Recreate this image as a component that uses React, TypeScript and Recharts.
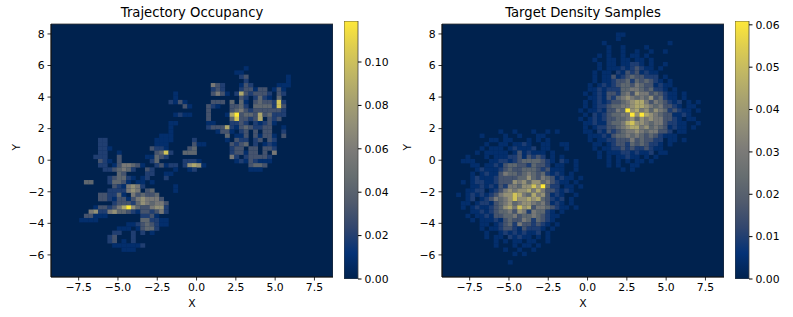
import React from 'react';
import { ScatterChart, Scatter, XAxis, YAxis, ReferenceArea, BarChart, Bar } from 'recharts';

const xTicks = [-7.5, -5, -2.5, 0, 2.5, 5, 7.5];
const yTicks = [-6, -4, -2, 0, 2, 4, 6, 8];
const xDomain = [-9.26, 8.68];
const yDomain = [-7.4, 8.63];
const bins = 60;

const occupancyTicks = [0, 0.02, 0.04, 0.06, 0.08, 0.1];
const targetTicks = [0, 0.01, 0.02, 0.03, 0.04, 0.05, 0.06];
const occupancyMax = 0.1189;
const targetMax = 0.0609;
// density for each digit used in the level strings
const occupancyValues = [0, 0.009, 0.019, 0.031, 0.043, 0.057, 0.072, 0.086, 0.102, 0.1189];
const targetValues = [0, 0.0045, 0.0095, 0.016, 0.022, 0.029, 0.037, 0.044, 0.052, 0.0609];

// [row from top, first column, levels]
const occupancyLevels: [number, number, string][] = [
  [10, 41, '1'], [11, 39, '11'], [12, 40, '23'], [12, 50, '1'], [13, 41, '2'], [13, 50, '1'],
  [14, 34, '532'], [14, 40, '132'], [14, 48, '111'],
  [15, 34, '232'], [15, 40, '2331330131'],
  [16, 26, '1'], [16, 34, '3531'], [16, 39, '27323332'], [16, 48, '32'],
  [17, 26, '1'], [17, 40, '32'], [17, 43, '242104'],
  [18, 25, '2131'], [18, 34, '333'], [18, 38, '4'], [18, 40, '41'], [18, 43, '3433282'],
  [19, 28, '31'], [19, 33, '321'], [19, 38, '3342'], [19, 43, '4444283'],
  [20, 33, '3'], [20, 38, '345323333332'],
  [21, 26, '1211'], [21, 33, '3'], [21, 37, '1793443734222'],
  [22, 33, '3'], [22, 38, '48332370323'],
  [23, 25, '11'], [23, 33, '11'], [23, 38, '2232021231'],
  [24, 25, '1'], [24, 33, '23337213432233'], [24, 49, '1'],
  [25, 25, '1'], [25, 35, '133102303033'], [25, 49, '2'],
  [26, 23, '111'], [26, 37, '4'], [26, 39, '113'], [26, 43, '31331'], [26, 49, '3'],
  [27, 10, '22'], [27, 22, '1111'], [27, 30, '2'], [27, 37, '1'], [27, 39, '322023032'],
  [28, 10, '22'], [28, 22, '111'], [28, 30, '311'], [28, 38, '3234020121'],
  [29, 10, '221'], [29, 21, '3221'], [29, 29, '34'], [29, 38, '2330330332'],
  [30, 10, '22'], [30, 14, '1'], [30, 22, '3482'], [30, 28, '444'], [30, 38, '2331330305'],
  [31, 9, '222'], [31, 14, '3'], [31, 20, '11432'], [31, 38, '520233332'],
  [32, 10, '321'], [32, 14, '3'], [32, 21, '24'], [32, 28, '2221'], [32, 39, '12132111'],
  [33, 10, '22'], [33, 13, '13'], [33, 15, '55431'], [33, 22, '231'], [33, 25, '22'], [33, 28, '26761'], [33, 42, '3443'],
  [34, 11, '2234542'], [34, 20, '32'], [34, 26, '1'], [34, 29, '12'], [34, 42, '111'],
  [35, 14, '43'], [35, 20, '22'], [35, 24, '11'],
  [36, 12, '234421'], [36, 19, '12'], [36, 24, '2'],
  [37, 7, '44'], [37, 12, '24431'], [37, 18, '11'], [37, 21, '1'],
  [38, 13, '3215652'], [38, 26, '1'],
  [39, 12, '2222565'], [39, 20, '34'], [39, 26, '1'],
  [40, 10, '33224'], [40, 15, '1'], [40, 17, '534334'],
  [41, 10, '332'], [41, 13, '13313565553'],
  [42, 13, '233324654553'],
  [43, 9, '1332357964335662'],
  [44, 8, '56225644321332352'],
  [45, 7, '33111'], [45, 19, '2231'],
  [46, 6, '1111'], [46, 19, '442211'],
  [47, 16, '112343211'],
  [48, 14, '11'], [48, 16, '1'], [48, 18, '13442'],
  [49, 13, '22'], [49, 17, '2'], [49, 19, '2'], [49, 21, '1'],
  [50, 12, '23'], [50, 17, '2'],
  [51, 12, '23'], [51, 15, '1'], [51, 17, '2'],
  [52, 13, '1111112'],
  [53, 15, '111'],
];

const targetLevels: [number, number, string][] = [
  // upper right cluster
  [2, 37, '11'],
  [3, 37, '10'],
  [4, 34, '1000000000000010'],
  [5, 35, '10010000100'],
  [6, 32, '0001001001001001'],
  [7, 33, '1010010110100'],
  [8, 32, '10011011011010'],
  [9, 32, '0101101122101001'],
  [10, 33, '101112123211010'],
  [11, 32, '1011021323121100'],
  [12, 32, '10113123433222010'],
  [13, 31, '010112334243432101'],
  [14, 31, '1012123443543312110'],
  [15, 30, '01121222445543422101'],
  [16, 30, '1012133245365534321101'],
  [17, 30, '01121324565454634211010'],
  [18, 30, '1012123345677535432120101'],
  [19, 29, '0101223445567765453321011'],
  [20, 29, '10112133549675646542321101'],
  [21, 29, '01021234455969765433112100'],
  [22, 29, '1012123344564656553321011'],
  [23, 29, '01121134457866545532211001'],
  [24, 30, '101223345677564543121101'],
  [25, 30, '1102132345565455332011'],
  [26, 30, '01112134454543432111'],
  [27, 31, '101122333534332201101'],
  [28, 31, '0110123324343221010'],
  [29, 32, '10112232322321100'],
  [30, 32, '0101112212112011'],
  [31, 33, '101011211010100'],
  [32, 34, '010101011010'],
  [33, 35, '10100110'],
  [34, 38, '101'],
  // lower left cluster
  [25, 12, '1001000100101'],
  [26, 8, '10000100100011000'],
  [27, 9, '0110110001010100'],
  [28, 9, '100110112100110011'],
  [29, 6, '0010111012111201100010'],
  [30, 6, '01011111013121110100'],
  [31, 5, '1000101112231323201010'],
  [32, 3, '011100011221234444321021010'],
  [33, 5, '0110112134433243320110010'],
  [34, 6, '01211123433444323111001'],
  [35, 6, '1012113544345434212101'],
  [36, 4, '001211123333446435431211010'],
  [37, 4, '10122112333656466453211010'],
  [38, 5, '0112121325546686942201101'],
  [39, 4, '01122012356566757533212100'],
  [40, 3, '10121212356687547563121001'],
  [41, 3, '0012012354568667674321201'],
  [42, 3, '0110122134564566545312101'],
  [43, 4, '1012112346758673554321101'],
  [44, 4, '0011212344536525442101'],
  [45, 5, '10112133445344543211'],
  [46, 6, '1011121343354243210'],
  [47, 6, '0011012342533232101'],
  [48, 8, '1011233213222101'],
  [49, 9, '100121212112010'],
  [50, 9, '10110212110101'],
  [51, 10, '0101011011001'],
  [52, 11, '1000101101'],
  [53, 13, '10010010'],
  [54, 14, '0101'],
  [56, 14, '1'],
];

// cividis
const colorStops = [
  [0, 34, 78], [4, 50, 118], [50, 70, 110], [81, 91, 109], [103, 110, 112], [124, 123, 120],
  [146, 143, 119], [168, 162, 111], [193, 183, 100], [222, 205, 80], [254, 232, 56],
];

const colorAt = (t: number) => {
  const p = Math.min(Math.max(t, 0), 1) * (colorStops.length - 1);
  const i = Math.min(Math.floor(p), colorStops.length - 2);
  const f = p - i;
  const c = colorStops[i].map((v, k) => Math.round(v + (colorStops[i + 1][k] - v) * f));
  return `rgb(${c[0]},${c[1]},${c[2]})`;
};

const buildCells = (levels: [number, number, string][], values: number[]) => {
  const binW = (xDomain[1] - xDomain[0]) / bins;
  const binH = (yDomain[1] - yDomain[0]) / bins;
  const cells: { x: number; y: number; value: number }[] = [];
  levels.forEach(([row, col, digits]) => {
    digits.split('').forEach((d, i) => {
      if (d === '0') return;
      cells.push({
        x: xDomain[0] + (col + i + 0.5) * binW,
        y: yDomain[1] - (row + 0.5) * binH,
        value: values[Number(d)],
      });
    });
  });
  return cells;
};

const minusTick = (v: number, digits: number) => v.toFixed(digits).replace('-', '\u2212');
const font = 'DejaVu Sans';
const tickStyle = { fontSize: 10.8, fontFamily: font, fill: '#000' };
const labelStyle = { fontSize: 10.8, fontFamily: font, fill: '#000' };

const plotW = 282;
const plotH = 253;

const Heatmap = ({ left, title, cells, max }: { left: number; title: string; cells: any[]; max: number }) => {
  const shape = (props: any) => {
    const w = plotW / bins;
    const h = plotH / bins;
    return (
      <rect
        x={props.cx - w / 2}
        y={props.cy - h / 2}
        width={w + 0.2}
        height={h + 0.2}
        fill={colorAt(props.payload.value / max)}
      />
    );
  };
  return (
    <div style={{ position: 'absolute', left, top: 0 }}>
      <ScatterChart width={plotW + 51} height={317} margin={{ top: 24, right: 0, bottom: 0, left: 16 }}>
        <XAxis
          type="number"
          dataKey="x"
          domain={xDomain}
          ticks={xTicks}
          allowDataOverflow
          interval={0}
          height={40}
          tickSize={3.5}
          tickMargin={3}
          tickFormatter={(v) => minusTick(v, 1)}
          tick={tickStyle}
          stroke="#000"
          strokeWidth={0.8}
          label={{ value: 'X', position: 'insideBottom', offset: 10, style: labelStyle }}
        />
        <YAxis
          type="number"
          dataKey="y"
          domain={yDomain}
          ticks={yTicks}
          allowDataOverflow
          interval={0}
          width={35}
          tickSize={3.5}
          tickMargin={3}
          tickFormatter={(v) => minusTick(v, 0)}
          tick={tickStyle}
          stroke="#000"
          strokeWidth={0.8}
          label={{ value: 'Y', angle: -90, position: 'insideLeft', offset: 0, style: labelStyle }}
        />
        <ReferenceArea x1={xDomain[0]} x2={xDomain[1]} y1={yDomain[0]} y2={yDomain[1]} fill="#00224e" fillOpacity={1} stroke="none" />
        <Scatter data={cells} shape={shape} isAnimationActive={false} />
        <ReferenceArea x1={xDomain[0]} x2={xDomain[1]} y1={yDomain[0]} y2={yDomain[1]} fill="none" stroke="#333" strokeWidth={0.8} />
        <text x={51 + plotW / 2} y={16.5} textAnchor="middle" fontSize={13.2} fontFamily={font} fill="#000">
          {title}
        </text>
      </ScatterChart>
    </div>
  );
};

const Colorbar = ({ id, left, ticks, max }: { id: string; left: number; ticks: number[]; max: number }) => (
  <div style={{ position: 'absolute', left, top: 0 }}>
    <BarChart
      width={54}
      height={317}
      data={[{ name: 'density', value: max }]}
      margin={{ top: 21, right: 0, bottom: 38, left: 0 }}
      barCategoryGap={0}
    >
      <defs>
        <linearGradient id={id} x1="0" y1="1" x2="0" y2="0">
          {colorStops.map((_, i) => (
            <stop key={i} offset={i / (colorStops.length - 1)} stopColor={colorAt(i / (colorStops.length - 1))} />
          ))}
        </linearGradient>
      </defs>
      <XAxis dataKey="name" hide />
      <YAxis
        orientation="right"
        domain={[0, max]}
        ticks={ticks}
        allowDataOverflow
        interval={0}
        width={40}
        axisLine={false}
        tickSize={3.5}
        tickMargin={3}
        tickFormatter={(v) => v.toFixed(2)}
        tick={tickStyle}
        stroke="#000"
      />
      <Bar dataKey="value" fill={`url(#${id})`} stroke="#444" strokeWidth={0.8} isAnimationActive={false} />
    </BarChart>
  </div>
);

export default function App() {
  return (
    <div style={{ position: 'fixed', left: 0, top: 0, width: 793, height: 317, background: '#fff', overflow: 'hidden' }}>
      <Heatmap left={0} title="Trajectory Occupancy" cells={buildCells(occupancyLevels, occupancyValues)} max={occupancyMax} />
      <Colorbar id="occupancyBar" left={344} ticks={occupancyTicks} max={occupancyMax} />
      <Heatmap left={391} title="Target Density Samples" cells={buildCells(targetLevels, targetValues)} max={targetMax} />
      <Colorbar id="targetBar" left={735} ticks={targetTicks} max={targetMax} />
    </div>
  );
}
